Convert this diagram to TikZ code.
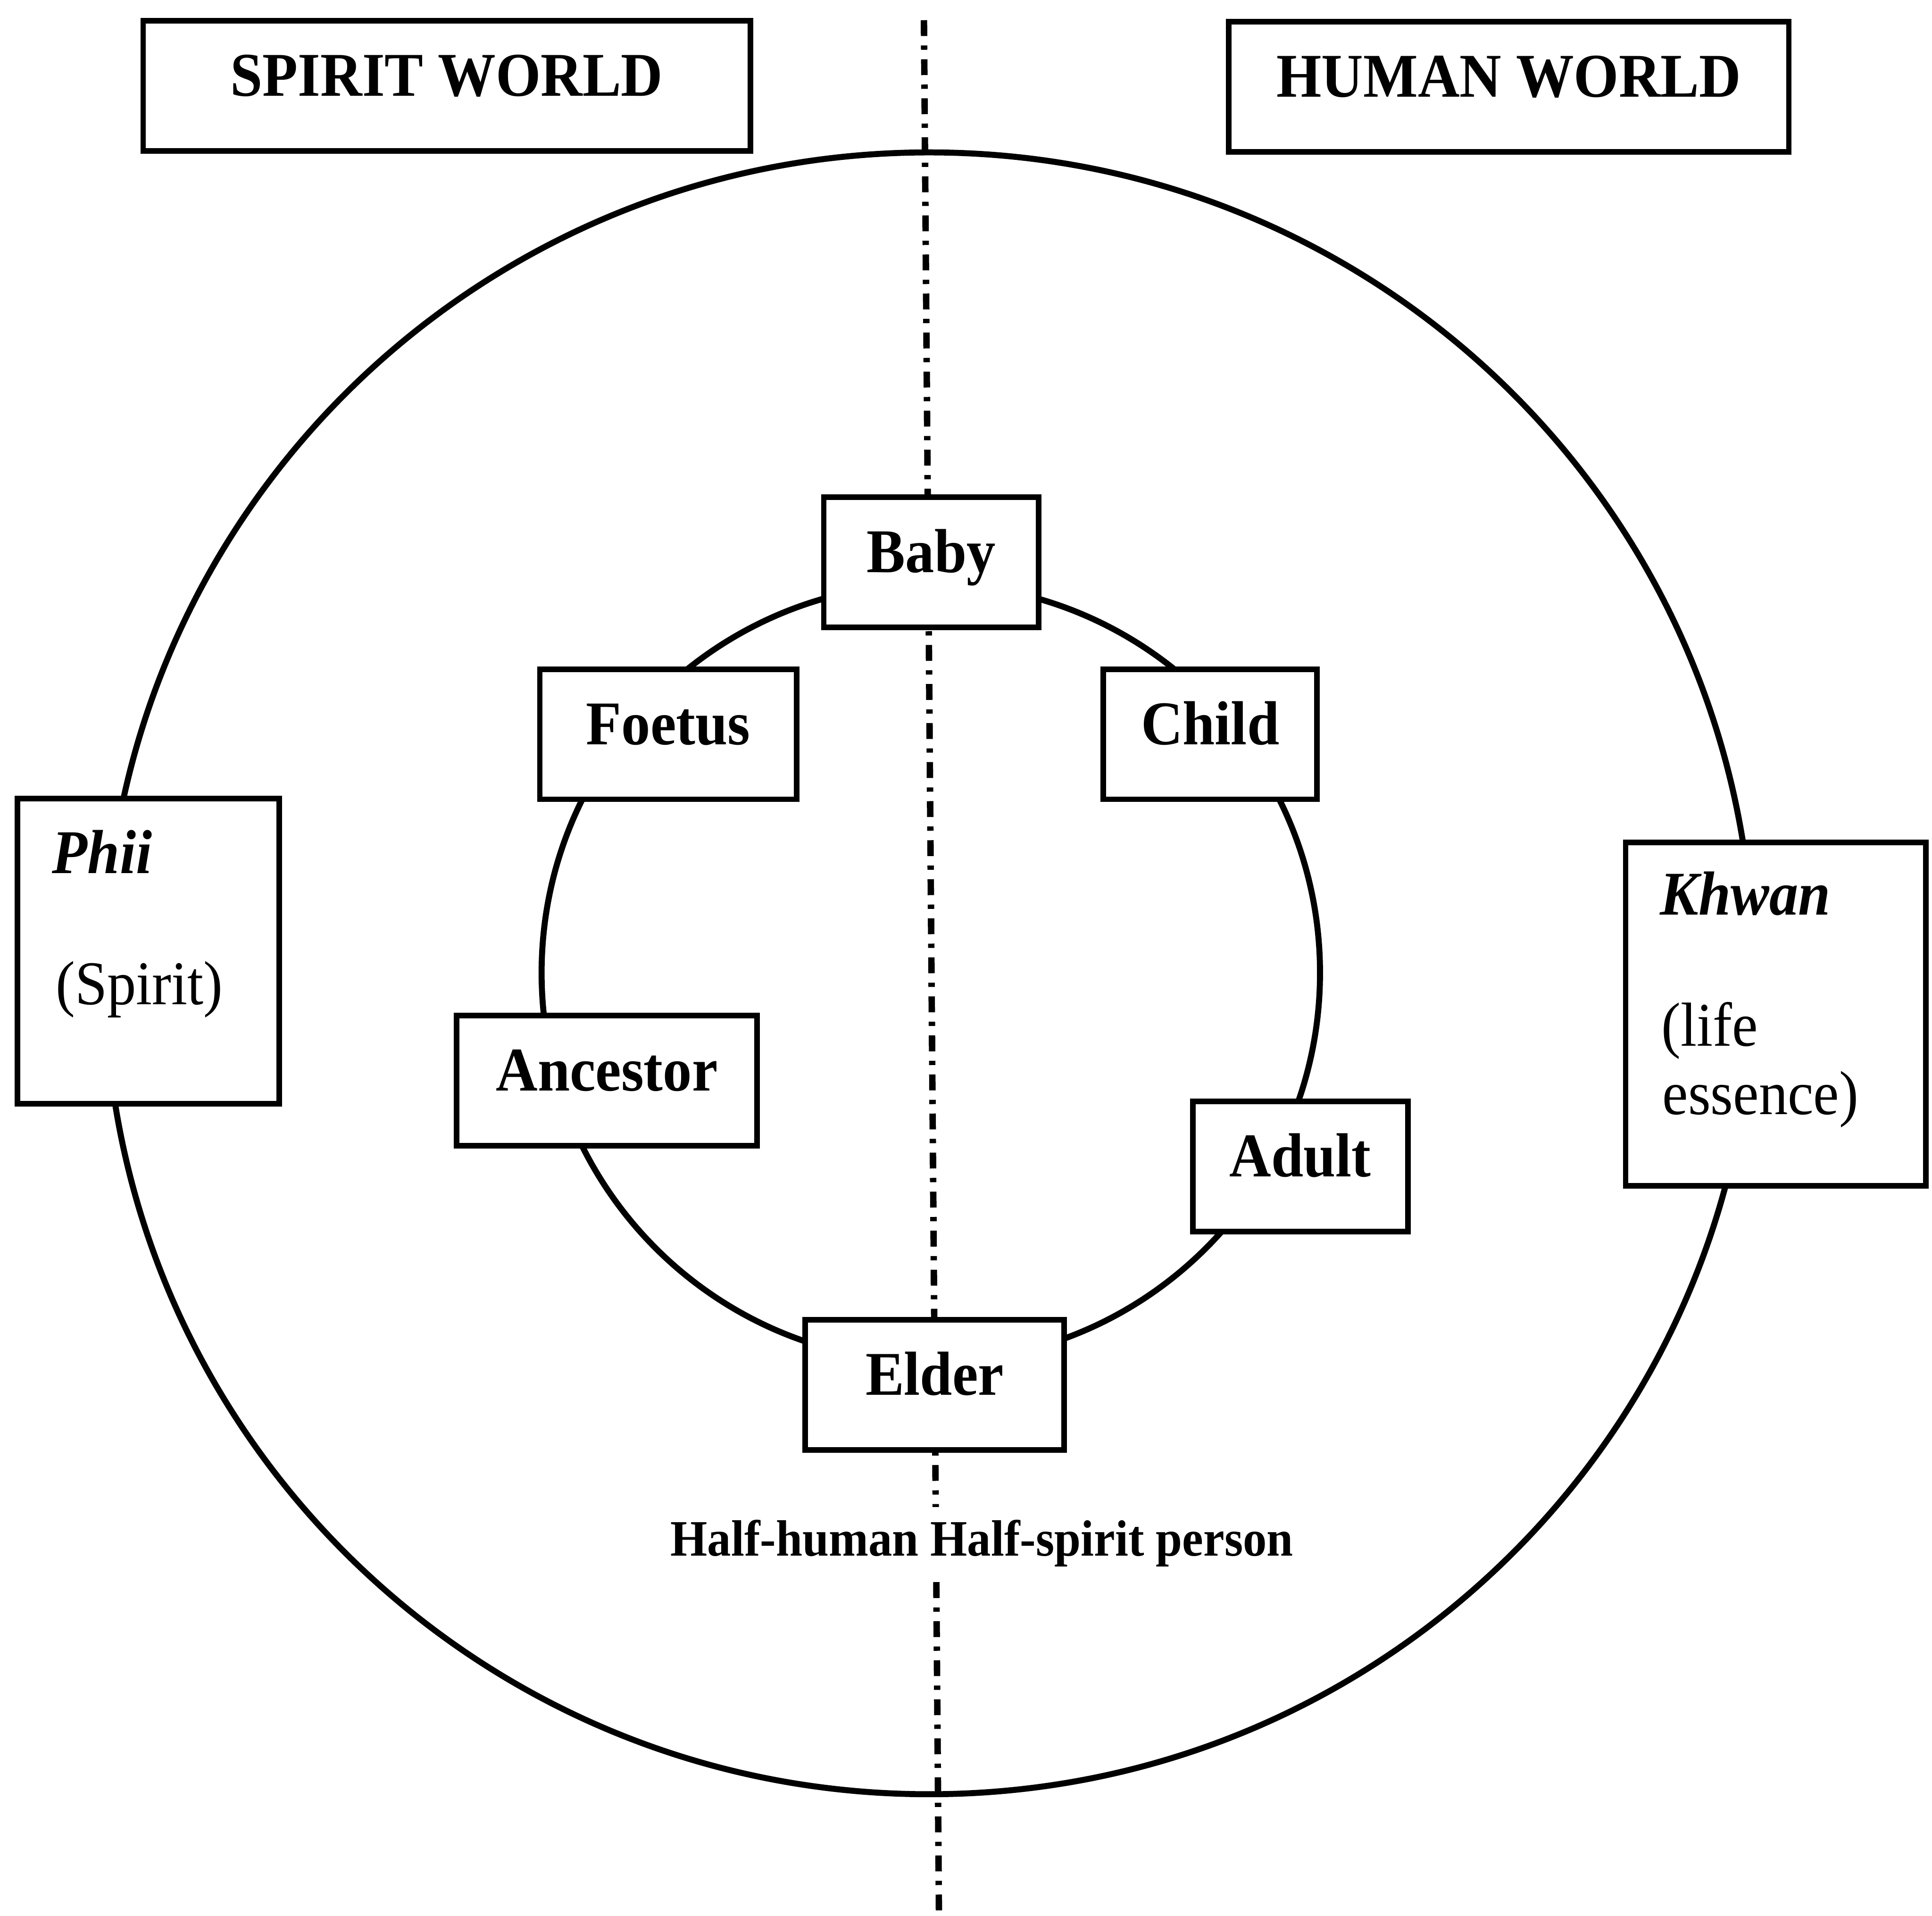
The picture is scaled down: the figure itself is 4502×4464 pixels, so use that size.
\documentclass[tikz,border=0pt]{standalone}
\usepackage{fontspec}
\setmainfont{Liberation Serif}[FakeStretch=0.93]
\begin{document}
\begin{tikzpicture}[x=0.1pt,y=-0.1pt,
  every node/.style={inner sep=0pt},
  outline/.style={draw, line width=1.3pt, fill=white},
  stage/.style={outline, text height=17.5pt, text depth=12.8pt,
    font=\fontsize{14.5pt}{15.5pt}\selectfont\bfseries},
  term/.style={anchor=base west, font=\fontsize{14.5pt}{15.5pt}\selectfont\bfseries\itshape},
  gloss/.style={anchor=base west, font=\fontsize{14.5pt}{15.5pt}\selectfont},
  ring/.style={draw, line width=1.4pt},
  divider/.style={line width=1.5pt, dash pattern=on 3.7pt off 2.2pt on 1.0pt off 2.2pt},
]
\useasboundingbox (0,0) rectangle (4502,4464);

% dividing line between the two worlds
\coordinate (axtop) at (2153,47);
\coordinate (axbot) at (2188,4464);
\draw[divider] (axtop) -- (axbot);

% outer and inner circles
\coordinate (outerc) at (2165,2268);
\coordinate (innerc) at (2169,2267);
\draw[ring] (outerc) ellipse [x radius=192.1pt, y radius=191.3pt];
\draw[ring] (innerc) circle [radius=90.7pt];

% headings
\node[stage, minimum width=141.5pt] (spirit) at (1041,200) {SPIRIT WORLD};
\node[stage, minimum width=130.5pt] (human) at (3516,202) {HUMAN WORLD};

% life cycle stages
\node[stage, minimum width=50.1pt] (baby) at (2170,1310) {Baby};
\node[stage, minimum width=59.8pt] (foetus) at (1557,1711) {Foetus};
\node[stage, minimum width=49.8pt] (child) at (2820,1711) {Child};
\node[stage, minimum width=70.1pt] (ancestor) at (1414,2518) {Ancestor};
\node[stage, minimum width=50.1pt] (adult) at (3030,2718) {Adult};
\node[stage, minimum width=60.4pt] (elder) at (2178,3227) {Elder};

% side panels
\node[outline, minimum width=61.0pt, minimum height=71.1pt] (phii) at (346,2216) {};
\node[term] (phiiterm) at (120,2035) {Phii};
\node[gloss] (phiigloss) at (128,2341) {(Spirit)};

\node[outline, minimum width=70.0pt, minimum height=80.0pt] (khwan) at (4138,2363) {};
\node[term] (khwanterm) at (3866,2132) {Khwan};
\node[gloss] (khwangloss) at (3870,2437) {(life};
\node[gloss] (khwangloss2) at (3872,2597) {essence)};

% caption on the dividing line
\node[fill=white, inner xsep=2pt, inner ysep=3pt, anchor=base,
  font=\fontsize{11.9pt}{13pt}\selectfont\bfseries] (halfhalf) at (2288,3625)
  {Half-human Half-spirit person};
\end{tikzpicture}
\end{document}
